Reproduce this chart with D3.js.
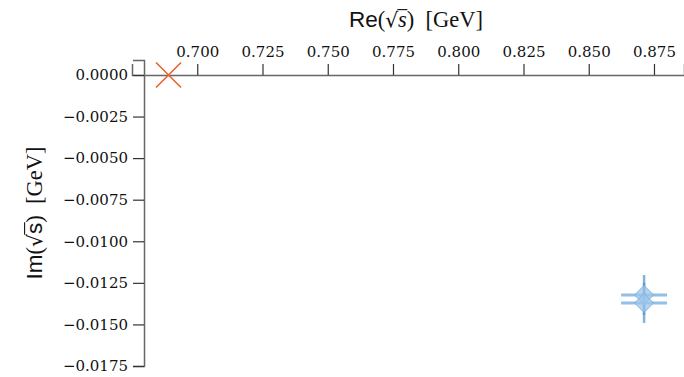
<!DOCTYPE html>
<html>
<head>
<meta charset="utf-8">
<script src="https://cdn.jsdelivr.net/npm/d3@7"></script>
<style>
  body { margin: 0; background: #fff; }
  svg { display: block; }
</style>
</head>
<body>
<div id="chart"></div>
<script>
// valores
const xTicks = [0.700, 0.725, 0.750, 0.775, 0.800, 0.825, 0.850, 0.875];
const yTicks = [0.0000, -0.0025, -0.0050, -0.0075, -0.0100, -0.0125, -0.0150, -0.0175];

// punto marcado con la cruz
const crossRe = [0.689];
const crossIm = [0.0];

// polos con barras de error
const poleRe = [0.8712, 0.8712];
const poleIm = [-0.01323, -0.01371];
const poleReErr = [0.0088, 0.0088];
const poleImErr = [0.0012, 0.0012];

const width = 684, height = 377;

const svg = d3.select("#chart").append("svg")
    .attr("width", width)
    .attr("height", height);

const x = d3.scaleLinear().domain([0.675, 0.8865]).range([132, 684]);
const y = d3.scaleLinear().domain([0.0009, -0.0175]).range([60, 366]);

const yAxisAt = 0.6796; // donde cruza el eje vertical

const serif = "Liberation Serif";
const sans = "Liberation Sans";
const tickFont = "DejaVu Serif";

// eje x (arriba, en Im = 0)
const gx = svg.append("g")
    .attr("transform", `translate(0,${y(0)})`)
    .call(d3.axisTop(x).tickValues(xTicks).tickFormat(d3.format(".3f")).tickSizeOuter(0).tickSize(11).tickPadding(7));

// eje y
const gy = svg.append("g")
    .attr("transform", `translate(${x(yAxisAt)},0)`)
    .call(d3.axisLeft(y).tickValues(yTicks).tickFormat(d => d3.format(".4f")(d).replace("-", "\u2212")).tickSizeOuter(0).tickSize(11).tickPadding(5));

[gx, gy].forEach(g => {
    g.attr("font-family", tickFont).attr("font-size", 15);
    g.select(".domain").attr("stroke", "#666").attr("stroke-width", 1.5);
    g.selectAll(".tick line").attr("stroke", "#333").attr("stroke-width", 1.2);
    g.selectAll(".tick text").attr("fill", "#111");
});

// texto con raiz cuadrada
function addLabel(text, sFont, sItalic) {
    text.append("tspan").attr("font-family", sans).text(text.datum().op);
    text.append("tspan").attr("font-family", serif).text("(");
    text.append("tspan").attr("font-family", "DejaVu Serif").attr("font-size", "0.9em").text("\u221A");
    text.append("tspan").attr("font-family", sFont).attr("font-style", sItalic ? "italic" : null).text("s");
    text.append("tspan").attr("font-family", serif).text(")\u2002[GeV]");
}
// raya sobre la s
function overline(parent, text) {
    const n = text.node();
    const idx = text.datum().op.length + 1;
    const p0 = n.getEndPositionOfChar(idx);
    const p1 = n.getEndPositionOfChar(idx + 1);
    const ext = n.getExtentOfChar(idx);
    parent.append("line")
        .attr("x1", p0.x - 0.8).attr("x2", p1.x + 0.5)
        .attr("y1", ext.y + 1.6).attr("y2", ext.y + 1.6)
        .attr("stroke", "#111").attr("stroke-width", 1.1);
}

// titulo del eje x
const xg = svg.append("g");
const xt = xg.append("text").datum({ op: "Re" })
    .attr("x", 416)
    .attr("y", 27)
    .attr("text-anchor", "middle")
    .attr("fill", "#111")
    .attr("font-size", 22.5);
addLabel(xt, serif, true);
overline(xg, xt);

// titulo del eje y
const yg = svg.append("g").attr("transform", "translate(42,213) rotate(-90)");
const yt = yg.append("text").datum({ op: "Im" })
    .attr("text-anchor", "middle")
    .attr("fill", "#111")
    .attr("font-size", 22.5);
addLabel(yt, sans, false);
overline(yg, yt);

// cruz naranja
const crosses = crossRe.map((r, i) => ({ re: r, im: crossIm[i] }));
svg.selectAll(".cross")
    .data(crosses)
    .enter().append("path")
    .attr("class", "cross")
    .attr("d", d => {
        const cx = x(d.re), cy = y(d.im), s = 12.5;
        return `M${cx - s},${cy - s}L${cx + s},${cy + s}M${cx - s},${cy + s}L${cx + s},${cy - s}`;
    })
    .attr("stroke", "#e8632e")
    .attr("stroke-width", 1.6)
    .attr("fill", "none");

// polos con errores
const poles = poleRe.map((r, i) => ({ re: r, im: poleIm[i], dre: poleReErr[i], dim: poleImErr[i] }));

const pg = svg.append("g");
pg.selectAll(".ey")
    .data(poles)
    .enter().append("line")
    .attr("x1", d => x(d.re)).attr("x2", d => x(d.re))
    .attr("y1", d => y(d.im + d.dim)).attr("y2", d => y(d.im - d.dim))
    .attr("stroke", "#4f90cc")
    .attr("stroke-opacity", 0.7)
    .attr("stroke-width", 2.5);

pg.selectAll(".ex")
    .data(poles)
    .enter().append("line")
    .attr("x1", d => x(d.re - d.dre)).attr("x2", d => x(d.re + d.dre))
    .attr("y1", d => y(d.im)).attr("y2", d => y(d.im))
    .attr("stroke", "#6fa8dc")
    .attr("stroke-opacity", 0.75)
    .attr("stroke-width", 3);

pg.selectAll(".mk")
    .data(poles)
    .enter().append("path")
    .attr("d", d => {
        const cx = x(d.re), cy = y(d.im), w = 9.5, h = 9.5;
        return `M${cx},${cy - h}L${cx + w},${cy}L${cx},${cy + h}L${cx - w},${cy}Z`;
    })
    .attr("fill", "#9ec6ea")
    .attr("fill-opacity", 0.75)
    .attr("stroke", "#7fb2e0")
    .attr("stroke-width", 1);
</script>
</body>
</html>
